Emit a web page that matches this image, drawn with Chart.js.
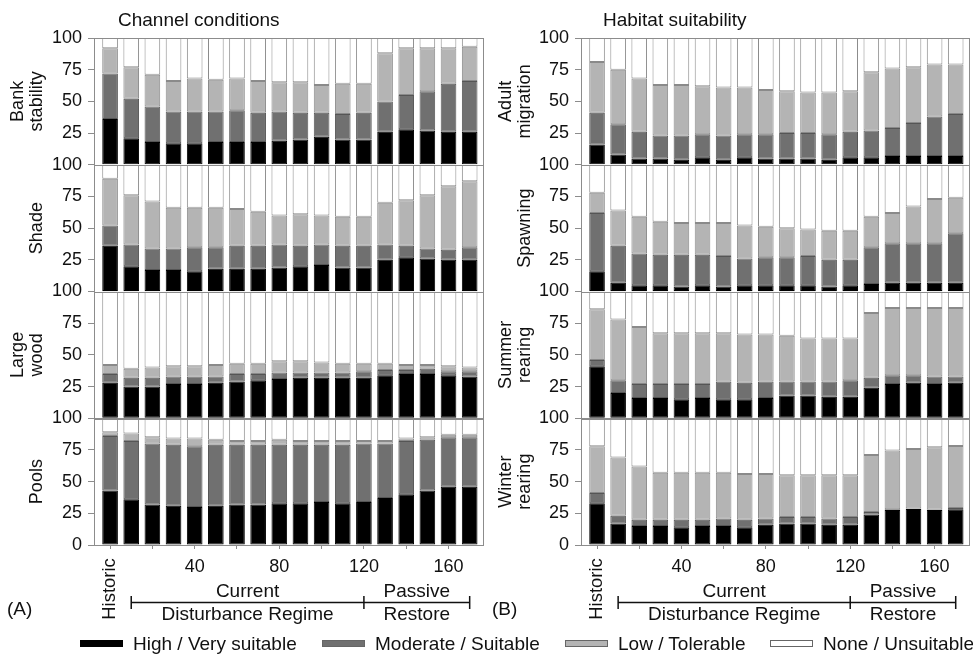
<!DOCTYPE html>
<html>
<head>
<meta charset="utf-8">
<script src="https://cdn.jsdelivr.net/npm/chart.js@4.4.1/dist/chart.umd.min.js"></script>
<style>
  body { margin: 0; background: #fff; width: 973px; height: 656px; position: relative; overflow: hidden;
         font-family: "Liberation Sans", Arial, sans-serif; color: #111; }
  canvas { position: absolute; top: 0; }
  #chartA { left: 0; }
  #chartB { left: 490px; }
  .key { position: absolute; top: 634px; font-size: 19px; line-height: 20px; white-space: nowrap; }
  .key i { display: inline-block; width: 41px; height: 5px; border: 1px solid #666; vertical-align: middle;
           margin: -3px 10px 0 0; }
</style>
</head>
<body>
<canvas id="chartA" width="490" height="656"></canvas>
<canvas id="chartB" width="483" height="656"></canvas>
<div id="keys"></div>
<script>
// model years: 0 = historic, 10-120 current regime, 130-170 passive restoration
const periods = [0, 10, 20, 30, 40, 50, 60, 70, 80, 90, 100, 110, 120, 130, 140, 150, 160, 170];
const classes = ['High / Very suitable', 'Moderate / Suitable', 'Low / Tolerable', 'None / Unsuitable'];

// channel conditions (% of network)
const bankHigh = [36, 21, 18, 17, 17, 18, 18, 18, 19, 20, 22, 20, 20, 26, 28, 27, 26, 26];
const bankMod  = [36, 31, 28, 25, 25, 24, 25, 23, 23, 21, 19, 20, 21, 24, 27, 31, 38, 40];
const bankLow  = [20, 25, 25, 24, 26, 25, 25, 25, 23, 24, 22, 24, 23, 38, 37, 34, 28, 27];
const bankNone = [8, 23, 29, 34, 32, 33, 32, 34, 35, 35, 37, 36, 36, 12, 8, 8, 8, 7];

const shadeHigh = [36, 20, 17, 17, 16, 18, 18, 18, 19, 20, 21, 19, 19, 25, 27, 26, 25, 25];
const shadeMod  = [16, 17, 17, 17, 19, 17, 18, 18, 18, 16, 16, 17, 17, 12, 9, 8, 8, 10];
const shadeLow  = [37, 39, 37, 32, 31, 31, 29, 27, 23, 25, 23, 23, 23, 33, 36, 42, 50, 52];
const shadeNone = [11, 24, 29, 34, 34, 34, 35, 37, 40, 39, 40, 41, 41, 30, 28, 24, 17, 13];

const woodHigh = [28, 25, 25, 27, 27, 28, 29, 30, 31, 32, 32, 32, 32, 34, 35, 35, 34, 33];
const woodMod  = [7, 7, 7, 6, 6, 5, 6, 5, 5, 4, 4, 4, 5, 4, 3, 4, 3, 4];
const woodLow  = [7, 7, 8, 8, 8, 9, 8, 8, 9, 9, 8, 7, 6, 5, 4, 3, 4, 3];
const woodNone = [58, 61, 60, 59, 59, 58, 57, 57, 55, 55, 56, 57, 57, 57, 58, 58, 59, 60];

const poolsHigh = [43, 36, 32, 31, 30, 31, 32, 32, 33, 33, 34, 33, 34, 37, 40, 43, 46, 46];
const poolsMod  = [43, 46, 48, 48, 48, 48, 47, 47, 46, 46, 45, 46, 46, 43, 42, 40, 39, 39];
const poolsLow  = [3, 6, 5, 5, 6, 4, 3, 3, 4, 3, 3, 3, 2, 2, 2, 2, 2, 2];
const poolsNone = [11, 12, 15, 16, 16, 17, 18, 18, 17, 18, 18, 18, 18, 18, 16, 15, 13, 13];

// habitat suitability (% of network)
const adultHigh = [16, 8, 5, 5, 4, 6, 4, 6, 5, 5, 5, 4, 6, 6, 7, 7, 7, 7];
const adultMod  = [25, 24, 21, 18, 19, 18, 19, 18, 19, 20, 20, 20, 20, 21, 22, 26, 31, 33];
const adultLow  = [40, 43, 42, 40, 40, 38, 38, 37, 35, 33, 32, 33, 32, 46, 47, 44, 41, 39];
const adultNone = [19, 25, 32, 37, 37, 38, 39, 39, 41, 42, 43, 43, 42, 27, 24, 23, 21, 21];

const spawnHigh = [16, 7, 5, 5, 4, 5, 4, 5, 5, 5, 5, 4, 5, 6, 7, 7, 7, 7];
const spawnMod  = [46, 29, 25, 24, 25, 24, 24, 21, 22, 22, 23, 21, 20, 29, 31, 31, 31, 39];
const spawnLow  = [16, 28, 29, 26, 25, 25, 26, 26, 24, 23, 21, 23, 23, 24, 24, 29, 35, 28];
const spawnNone = [22, 36, 41, 45, 46, 46, 46, 48, 49, 50, 51, 52, 52, 41, 38, 33, 27, 26];

const summerHigh = [41, 20, 16, 16, 15, 16, 15, 15, 16, 18, 18, 17, 17, 24, 27, 28, 27, 28];
const summerMod  = [5, 10, 11, 11, 12, 11, 14, 13, 13, 11, 11, 12, 13, 8, 7, 6, 6, 5];
const summerLow  = [40, 48, 45, 40, 40, 40, 38, 38, 37, 36, 34, 34, 33, 51, 53, 53, 54, 54];
const summerNone = [14, 22, 28, 33, 33, 33, 33, 34, 34, 35, 37, 37, 37, 17, 13, 13, 13, 13];

const winterHigh = [33, 17, 15, 15, 14, 15, 15, 14, 16, 17, 17, 16, 16, 24, 27.6, 28.4, 27.6, 28.2];
const winterMod  = [8, 6, 5, 5, 6, 5, 6, 6, 5, 5, 5, 5, 6, 2, 0.6, 0.3, 0.3, 1];
const winterLow  = [37, 46, 42, 37, 37, 37, 36, 36, 35, 33, 33, 34, 33, 45, 46.3, 47.1, 49.2, 49];
const winterNone = [22, 31, 38, 43, 43, 43, 43, 44, 44, 45, 45, 45, 45, 29, 25.5, 24.2, 22.9, 21.8];

const fills = ['#000000', '#707070', '#b4b4b4', '#ffffff'];
const edges = ['#000000', '#555555', '#8a8a8a', '#8a8a8a'];
const ink = '#111111';
const axisGray = '#8c8c8c';
const fontFamily = '"Liberation Sans", Arial, sans-serif';
const CANVAS_H = 656;
const PLOT_BOTTOM = 545;

function decor(rows, opts) {
  return {
    id: 'decor',
    afterDraw(chart) {
      const ctx = chart.ctx;
      const area = chart.chartArea;
      const xs = chart.scales.x;
      ctx.save();

      // box around every row
      ctx.strokeStyle = axisGray;
      ctx.lineWidth = 1;
      rows.forEach((row, k) => {
        const s = chart.scales['y' + k];
        ctx.strokeRect(Math.round(area.left) + 0.5, Math.round(s.top) + 0.5,
          Math.round(area.right - area.left), Math.round(s.bottom - s.top));
      });

      ctx.fillStyle = ink;
      ctx.textBaseline = 'middle';

      // row titles, rotated, last line kept next to the ticks
      ctx.font = '18px ' + fontFamily;
      ctx.textAlign = 'center';
      rows.forEach((row, k) => {
        const s = chart.scales['y' + k];
        const n = row.title.length;
        row.title.forEach((line, i) => {
          ctx.save();
          ctx.translate(opts.titleX - (n - 1 - i) * 19, (s.top + s.bottom) / 2);
          ctx.rotate(-Math.PI / 2);
          ctx.fillText(line, 0, 0);
          ctx.restore();
        });
      });

      // panel heading and letter
      ctx.font = '19px ' + fontFamily;
      ctx.textAlign = 'left';
      ctx.fillText(opts.heading, opts.headingX, 21);
      ctx.fillText(opts.letter, opts.letterX, 610);

      // historic label under the first bar
      ctx.save();
      ctx.translate(xs.getPixelForValue(periods[0]), 589);
      ctx.rotate(-Math.PI / 2);
      ctx.textAlign = 'center';
      ctx.font = '18.5px ' + fontFamily;
      ctx.fillText('Historic', 0, 0);
      ctx.restore();

      // regime bracket
      const p10 = xs.getPixelForValue(10);
      const p120 = xs.getPixelForValue(120);
      const p170 = xs.getPixelForValue(170);
      ctx.strokeStyle = ink;
      ctx.lineWidth = 1.5;
      ctx.beginPath();
      ctx.moveTo(p10, 602.5); ctx.lineTo(p170, 602.5);
      [p10, p120, p170].forEach(p => { ctx.moveTo(p, 596); ctx.lineTo(p, 609); });
      ctx.stroke();

      ctx.textAlign = 'center';
      ctx.font = '19px ' + fontFamily;
      const cur = xs.getPixelForValue(65);
      const pas = xs.getPixelForValue(145);
      ctx.fillText('Current', cur, 592);
      ctx.fillText('Disturbance Regime', cur, 615);
      ctx.fillText('Passive', pas, 592);
      ctx.fillText('Restore', pas, 615);
      ctx.restore();
    }
  };
}

function makePanel(canvasId, rows, opts) {
  const datasets = [];
  rows.forEach((row, k) => {
    row.series.forEach((vals, c) => {
      datasets.push({
        label: classes[c],
        data: periods.map((p, i) => ({ x: p, y: vals[i] })),
        yAxisID: 'y' + k,
        stack: 'all',
        backgroundColor: fills[c],
        borderColor: edges[c],
        borderWidth: 1,
        borderSkipped: false,
        categoryPercentage: 1,
        barPercentage: 0.74
      });
    });
  });

  const tickFont = { family: fontFamily, size: 18 };
  const scales = {
    x: {
      type: 'linear',
      min: -7.6,
      max: 176.3,
      offset: false,
      stacked: true,
      afterFit: s => { s.height = CANVAS_H - PLOT_BOTTOM; },
      border: { color: axisGray },
      grid: { offset: false, drawOnChartArea: false, tickLength: 4, color: axisGray },
      ticks: {
        stepSize: 20, includeBounds: false, autoSkip: false, maxRotation: 0,
        padding: 7, color: ink, font: tickFont,
        callback: v => (v > 0 && v % 40 === 0) ? v : ''
      }
    }
  };
  rows.forEach((row, k) => {
    scales['y' + k] = {
      type: 'linear',
      position: 'left',
      stack: 'rows',
      stackWeight: 1,
      weight: rows.length - k,
      stacked: true,
      min: 0,
      max: 100,
      afterFit: s => { s.width = opts.plotLeft; },
      border: { color: axisGray },
      grid: { drawOnChartArea: false, tickLength: 6, color: axisGray },
      ticks: {
        stepSize: 25, autoSkip: false, padding: 6, color: ink, font: tickFont,
        callback: v => (v === 0 && k < rows.length - 1) ? '' : v
      }
    };
  });

  return new Chart(document.getElementById(canvasId), {
    type: 'bar',
    data: { datasets },
    options: {
      responsive: false,
      animation: false,
      devicePixelRatio: 1,
      layout: { padding: { top: 38, right: opts.padRight, left: 0, bottom: 0 } },
      plugins: { legend: { display: false }, tooltip: { enabled: false } },
      scales
    },
    plugins: [decor(rows, opts)]
  });
}

makePanel('chartA', [
  { title: ['Bank', 'stability'], series: [bankHigh, bankMod, bankLow, bankNone] },
  { title: ['Shade'], series: [shadeHigh, shadeMod, shadeLow, shadeNone] },
  { title: ['Large', 'wood'], series: [woodHigh, woodMod, woodLow, woodNone] },
  { title: ['Pools'], series: [poolsHigh, poolsMod, poolsLow, poolsNone] }
], { plotLeft: 94, padRight: 7, titleX: 37, heading: 'Channel conditions', headingX: 118, letter: '(A)', letterX: 7 });

makePanel('chartB', [
  { title: ['Adult', 'migration'], series: [adultHigh, adultMod, adultLow, adultNone] },
  { title: ['Spawning'], series: [spawnHigh, spawnMod, spawnLow, spawnNone] },
  { title: ['Summer', 'rearing'], series: [summerHigh, summerMod, summerLow, summerNone] },
  { title: ['Winter', 'rearing'], series: [winterHigh, winterMod, winterLow, winterNone] }
], { plotLeft: 91, padRight: 4, titleX: 35, heading: 'Habitat suitability', headingX: 113, letter: '(B)', letterX: 2 });

// shared legend along the bottom
const keyLeft = [80, 322, 565, 770];
const keys = document.getElementById('keys');
classes.forEach((name, c) => {
  const item = document.createElement('div');
  item.className = 'key';
  item.style.left = keyLeft[c] + 'px';
  const swatch = document.createElement('i');
  swatch.style.background = fills[c];
  swatch.style.borderColor = c === 0 ? '#000' : '#666';
  item.appendChild(swatch);
  item.appendChild(document.createTextNode(name));
  keys.appendChild(item);
});
</script>
</body>
</html>
